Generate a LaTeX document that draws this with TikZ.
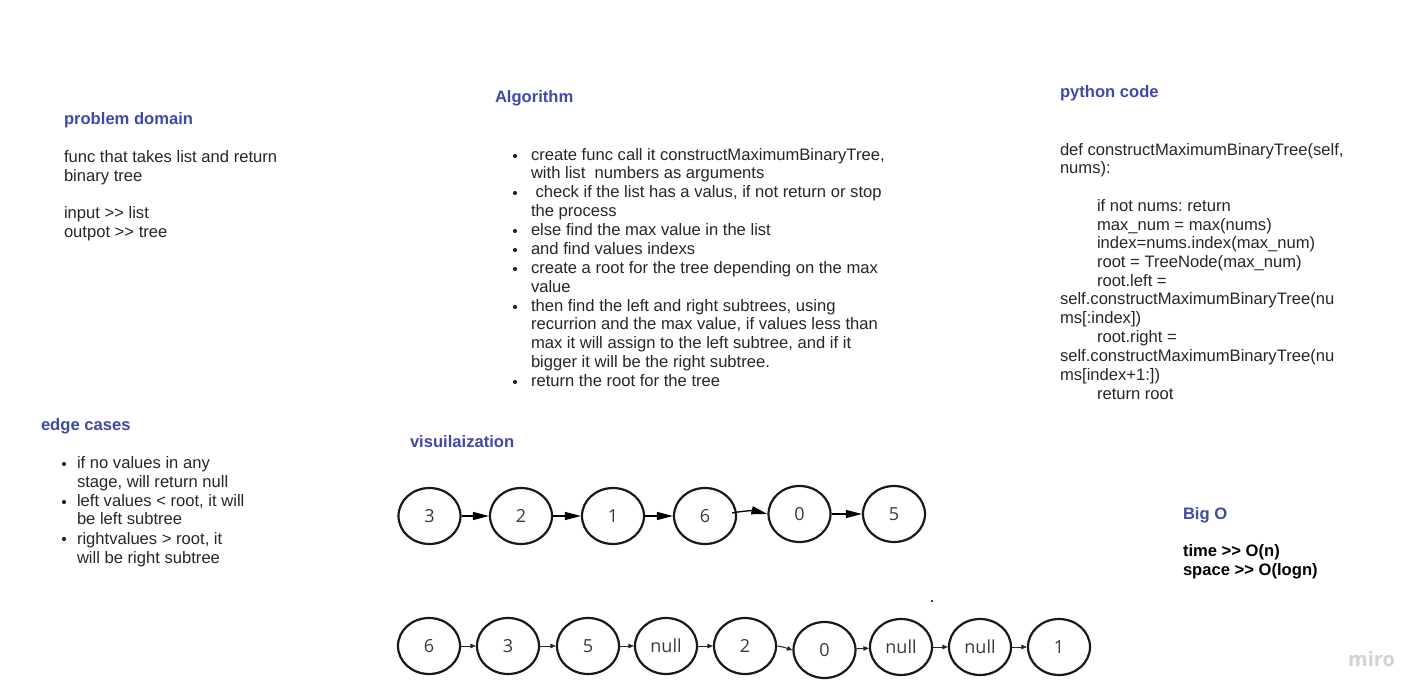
\documentclass[tikz,border=0pt]{standalone}
\usepackage{fontspec}
\setmainfont{Liberation Sans}
\newfontfamily\circfont{Open Sans}
\usetikzlibrary{arrows.meta,shapes.geometric}
\definecolor{headblue}{HTML}{4149A6}
\definecolor{bodytxt}{HTML}{262626}
\definecolor{numtxt}{HTML}{3A3A3A}
\definecolor{mirogray}{HTML}{D2D2D2}
\newcommand{\gtgt}{>\kern0pt>}
\frenchspacing
\begin{document}
\begin{tikzpicture}[x=1pt,y=-1pt,
  txt/.style={anchor=base west, inner sep=0pt, outer sep=0pt, font=\fontsize{16.6}{19}\selectfont, text=bodytxt},
  hd/.style={txt, font=\fontsize{16.6}{19}\selectfont\bfseries, text=headblue},
  bigo/.style={txt, font=\fontsize{16.6}{19}\selectfont\bfseries, text=black},
  bul/.style={circle, fill=bodytxt, inner sep=0pt, minimum size=4.2pt},
  circ/.style={draw=black!90, line width=2.2pt, ellipse, minimum width=62pt, minimum height=56pt, inner sep=0pt, font=\circfont\fontsize{18}{20}\selectfont, text=numtxt},
  bigarr/.style={draw=black, line width=1.3pt, -{Triangle[length=16pt,width=8pt]}},
  smallarr/.style={draw=black!85, line width=1pt, -{Triangle[length=5.5pt,width=4.5pt]}}
]
\useasboundingbox (0,0) rectangle (1428,700);

% problem domain
\node[hd] (pdh) at (64,125) {problem domain};
\node[txt] (pd1) at (64,163) {func that takes list and return};
\node[txt] (pd2) at (64,182) {binary tree};
\node[txt] (pd3) at (64,219) {input \gtgt{} list};
\node[txt] (pd4) at (64,238) {outpot \gtgt{} tree};

% algorithm
\node[hd] (alh) at (495,103) {Algorithm};
\node[txt] (al1) at (531,161) {create func call it constructMaximumBinaryTree,};
\node[txt] (al2) at (531,179) {with list\ \ numbers as arguments};
\node[txt] (al3) at (531,198) {\ check if the list has a valus, if not return or stop};
\node[txt] (al4) at (531,217) {the process};
\node[txt] (al5) at (531,236) {else find the max value in the list};
\node[txt] (al6) at (531,255) {and find values indexs};
\node[txt] (al7) at (531,274) {create a root for the tree depending on the max};
\node[txt] (al8) at (531,293) {value};
\node[txt] (al9) at (531,312) {then find the left and right subtrees, using};
\node[txt] (al10) at (531,330) {recurrion and the max value, if values less than};
\node[txt] (al11) at (531,349) {max it will assign to the left subtree, and if it};
\node[txt] (al12) at (531,368) {bigger it will be the right subtree.};
\node[txt] (al13) at (531,387) {return the root for the tree};
\node[bul] (ab1) at (515,156) {};
\node[bul] (ab2) at (515,193) {};
\node[bul] (ab3) at (515,231) {};
\node[bul] (ab4) at (515,250) {};
\node[bul] (ab5) at (515,269) {};
\node[bul] (ab6) at (515,307) {};
\node[bul] (ab7) at (515,382) {};

% python code
\node[hd] (pyh) at (1060,98) {python code};
\node[txt] (py1) at (1060,156) {def constructMaximumBinaryTree(self,};
\node[txt] (py2) at (1060,174) {nums):};
\node[txt] (py3) at (1097,212) {if not nums: return};
\node[txt] (py4) at (1097,231) {max\_num = max(nums)};
\node[txt] (py5) at (1097,249) {index=nums.index(max\_num)};
\node[txt] (py6) at (1097,268) {root = TreeNode(max\_num)};
\node[txt] (py7) at (1097,287) {root.left =};
\node[txt] (py8) at (1060,305) {self.constructMaximumBinaryTree(nu};
\node[txt] (py9) at (1060,324) {ms[:index])};
\node[txt] (py10) at (1097,343) {root.right =};
\node[txt] (py11) at (1060,362) {self.constructMaximumBinaryTree(nu};
\node[txt] (py12) at (1060,381) {ms[index+1:])};
\node[txt] (py13) at (1097,400) {return root};

% edge cases
\node[hd] (ech) at (41,431) {edge cases};
\node[txt] (ec1) at (77,469) {if no values in any};
\node[txt] (ec2) at (77,488) {stage, will return null};
\node[txt] (ec3) at (77,507) {left values < root, it will};
\node[txt] (ec4) at (77,525) {be left subtree};
\node[txt] (ec5) at (77,544) {rightvalues > root, it};
\node[txt] (ec6) at (77,563) {will be right subtree};
\node[bul] (eb1) at (64,464) {};
\node[bul] (eb2) at (64,502) {};
\node[bul] (eb3) at (64,539) {};

% visualization
\node[hd] (vih) at (410,448) {visuilaization};

% Big O
\node[hd] (boh) at (1183,519) {Big O};
\node[bigo] (bo1) at (1183,557) {time \gtgt{} O(n)};
\node[bigo] (bo2) at (1183,576) {space \gtgt{} O(logn)};

% row 1
\node[circ] (r1) at (429.5,516) {3};
\node[circ] (r2) at (521,516) {2};
\node[circ] (r3) at (613,516) {1};
\node[circ] (r4) at (705,516) {6};
\node[circ] (r5) at (799.5,514) {0};
\node[circ] (r6) at (894,514) {5};
\draw[bigarr] (r1) -- (r2);
\draw[bigarr] (r2) -- (r3);
\draw[bigarr] (r3) -- (r4);
\draw[bigarr] ([xshift=-5pt,yshift=3pt]r4.east) to[bend left=12] (r5.west);
\draw[bigarr] (r5) -- (r6);

% row 2
\node[circ] (s1) at (429,646) {6};
\node[circ] (s2) at (508,646) {3};
\node[circ] (s3) at (588,646) {5};
\node[circ] (s4) at (666,646) {null};
\node[circ] (s5) at (745,646) {2};
\node[circ] (s6) at (824.5,650) {0};
\node[circ] (s7) at (901,647) {null};
\node[circ] (s8) at (980,647) {null};
\node[circ] (s9) at (1059,647) {1};
\draw[smallarr] (s1) -- (s2);
\draw[smallarr] (s2) -- (s3);
\draw[smallarr] (s3) -- (s4);
\draw[smallarr] (s4) -- (s5);
\coordinate (elb) at (783,647);
\draw[smallarr] (s5.east) -- (elb) -- (s6.west);
\draw[smallarr] (s6) -- (s7);
\draw[smallarr] (s7) -- (s8);
\draw[smallarr] (s8) -- (s9);

% stray dot
\node[circle, fill=black, inner sep=0pt, minimum size=2.4pt] (dot) at (932,601) {};

% miro logo
\node[anchor=base west, inner sep=0pt, font=\circfont\fontsize{20}{22}\selectfont\bfseries, text=mirogray] (miro) at (1348,666) {miro};
\end{tikzpicture}
\end{document}
